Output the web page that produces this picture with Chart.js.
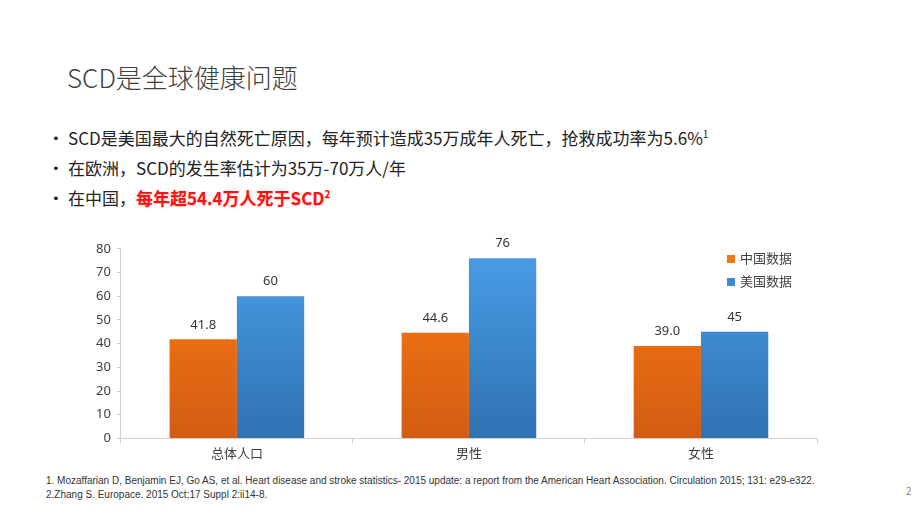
<!DOCTYPE html>
<html>
<head>
<meta charset="utf-8">
<script src="https://cdn.jsdelivr.net/npm/chart.js@4.4.1/dist/chart.umd.min.js"></script>
<style>
  body { margin: 0; background: #fff; font-family: "Noto Sans CJK SC", "Noto Sans", sans-serif; color: #404040; }
  #page { position: relative; width: 920px; height: 517px; overflow: hidden; }
  #title { position: absolute; left: 67px; top: 58px; font-size: 26px; font-weight: 300; color: #404040; }
  .bullet { position: absolute; left: 50px; font-size: 17px; color: #222; white-space: nowrap; }
  .bullet:before { content: "•"; position: absolute; left: 2px; top: 6px; font-family: "DejaVu Sans", sans-serif; font-size: 13px; }
  .bullet span.t { margin-left: 18px; }
  .red { color: #ff1010; font-weight: bold; text-shadow: 0 1px 1px rgba(255,120,120,0.5); }
  sup { font-size: 10px; vertical-align: 7px; }
  #chartBox { position: absolute; left: 90px; top: 235px; width: 737px; height: 228px; }
  #legend { position: absolute; left: 727px; top: 248px; font-size: 13px; color: #404040; }
  #legend div { height: 23px; line-height: 20px; }
  #legend i { display: inline-block; width: 8px; height: 8px; margin-right: 5px; vertical-align: 0px; }
  #notes { position: absolute; left: 46px; top: 474px; font-size: 10px; color: #333; line-height: 14px; font-family: "Liberation Sans", sans-serif; }
  #pagenum { position: absolute; left: 906px; top: 483px; font-size: 10px; color: #888; }
</style>
</head>
<body>
<div id="page">
  <div id="title">SCD是全球健康问题</div>
  <div class="bullet" style="top:125px"><span class="t">SCD是美国最大的自然死亡原因，每年预计造成35万成年人死亡，抢救成功率为5.6%<sup>1</sup></span></div>
  <div class="bullet" style="top:155px"><span class="t">在欧洲，SCD的发生率估计为35万-70万人/年</span></div>
  <div class="bullet" style="top:185px"><span class="t">在中国，<span class="red">每年超54.4万人死于SCD<sup>2</sup></span></span></div>
  <div id="chartBox"><canvas id="chart"></canvas></div>
  <div id="legend"></div>
  <div id="notes">
    1. Mozaffarian D, Benjamin EJ, Go AS, et al. Heart disease and stroke statistics- 2015 update: a report from the American Heart Association. Circulation 2015; 131: e29-e322.<br>
    2.Zhang S. Europace. 2015 Oct;17 Suppl 2:ii14-8.
  </div>
  <div id="pagenum">2</div>
</div>
<script>
// 数据
var categories = ['总体人口', '男性', '女性'];
var seriesNames = ['中国数据', '美国数据'];
var chinaValues = [41.8, 44.6, 39.0];
var usaValues = [60, 76, 45];
var chinaLabels = ['41.8', '44.6', '39.0'];
var usaLabels = ['60', '76', '45'];
var yTicks = [0, 10, 20, 30, 40, 50, 60, 70, 80];

var legendColors = ['#f57512', '#3d8ad6'];

function makeGradient(ctx, area, top, bottom) {
  var g = ctx.createLinearGradient(0, area.top, 0, area.bottom);
  g.addColorStop(0, top);
  g.addColorStop(1, bottom);
  return g;
}

// 柱子上方的数值
var valueLabels = {
  id: 'valueLabels',
  afterDatasetsDraw: function(chart) {
    var ctx = chart.ctx;
    var labels = [chinaLabels, usaLabels];
    ctx.save();
    ctx.font = '13px "Noto Sans", "Open Sans", sans-serif';
    ctx.fillStyle = '#333';
    ctx.textAlign = 'center';
    ctx.textBaseline = 'bottom';
    chart.data.datasets.forEach(function(ds, i) {
      chart.getDatasetMeta(i).data.forEach(function(bar, j) {
        ctx.fillText(labels[i][j], bar.x, bar.y - 8);
      });
    });
    ctx.restore();
  }
};

var ctx = document.getElementById('chart').getContext('2d');
var chart = new Chart(ctx, {
  type: 'bar',
  data: {
    labels: categories,
    datasets: [{
      label: seriesNames[0],
      data: chinaValues,
      backgroundColor: function(c) {
        var a = c.chart.chartArea;
        if (!a) return legendColors[0];
        return makeGradient(c.chart.ctx, a, '#ff7c12', '#d25c14');
      }
    }, {
      label: seriesNames[1],
      data: usaValues,
      backgroundColor: function(c) {
        var a = c.chart.chartArea;
        if (!a) return legendColors[1];
        return makeGradient(c.chart.ctx, a, '#4a9de8', '#2f72b2');
      }
    }]
  },
  options: {
    responsive: true,
    maintainAspectRatio: false,
    animation: false,
    layout: { padding: { top: 10, right: 10 } },
    categoryPercentage: 0.58,
    barPercentage: 1,
    plugins: {
      legend: { display: false },
      tooltip: { enabled: false }
    },
    scales: {
      x: {
        grid: { display: true, offset: true, drawOnChartArea: false, drawTicks: true, tickLength: 5, color: '#d0d0d0' },
        border: { color: '#d0d0d0' },
        ticks: { color: '#404040', font: { size: 13, family: '"Noto Sans CJK SC", sans-serif' }, padding: 2 }
      },
      y: {
        min: 0,
        max: 80,
        afterBuildTicks: function(axis) {
          axis.ticks = yTicks.map(function(v) { return { value: v }; });
        },
        grid: { display: true, drawOnChartArea: false, drawTicks: true, tickLength: 4, color: '#d0d0d0' },
        border: { color: '#d0d0d0' },
        ticks: { color: '#404040', font: { size: 13, family: '"Noto Sans", sans-serif' }, padding: 6 }
      }
    }
  },
  plugins: [valueLabels]
});

// 图例
var legend = document.getElementById('legend');
seriesNames.forEach(function(name, i) {
  var d = document.createElement('div');
  d.innerHTML = '<i style="background:' + legendColors[i] + '"></i>' + name;
  legend.appendChild(d);
});
</script>
</body>
</html>
